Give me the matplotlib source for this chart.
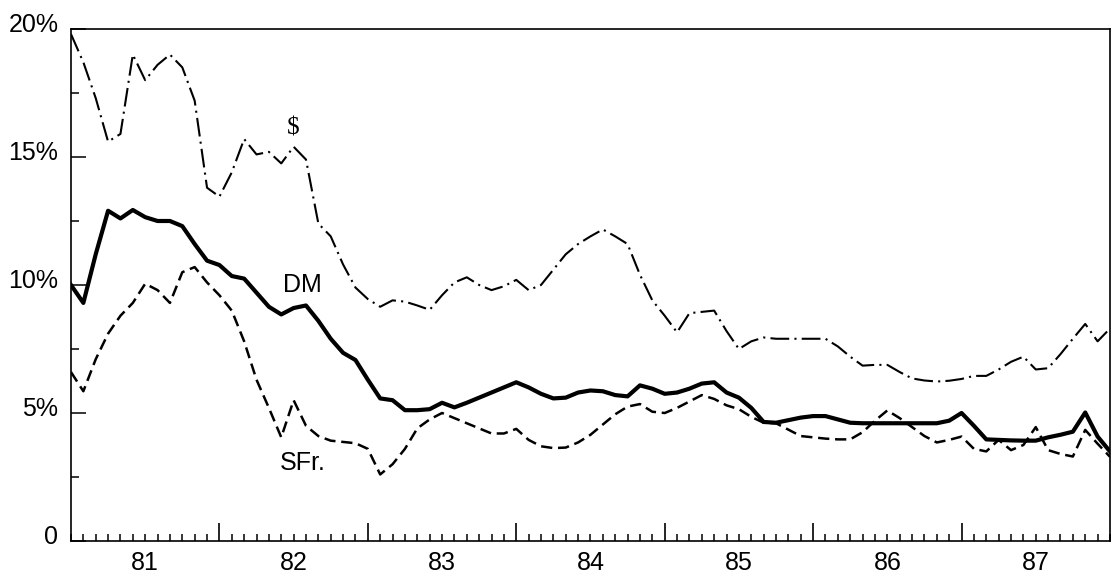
import numpy as np
import matplotlib.pyplot as plt
from matplotlib.ticker import MultipleLocator, FixedLocator, FuncFormatter
import matplotlib.transforms as mtransforms

# monthly values, Jan 1981 .. Jan 1988 (85 points), in percent
usd = [19.8, 18.7, 17.3, 15.6, 15.9, 19.0, 18.0, 18.6, 19.0, 18.5,
       17.2, 13.8, 13.45, 14.4, 15.7, 15.1, 15.2, 14.75, 15.4, 14.9,
       12.4, 11.9, 10.8, 9.9, 9.45, 9.15, 9.4, 9.35, 9.2, 9.03,
       9.6, 10.1, 10.3, 10.0, 9.8, 9.95, 10.2, 9.8, 10.0, 10.6,
       11.2, 11.6, 11.9, 12.17, 11.9, 11.6, 10.4, 9.4, 8.8, 8.15,
       8.9, 8.95, 9.0, 8.2, 7.5, 7.8, 7.95, 7.9, 7.9, 7.9,
       7.9, 7.9, 7.6, 7.2, 6.85, 6.88, 6.88, 6.6, 6.35, 6.27,
       6.23, 6.26, 6.33, 6.45, 6.45, 6.7, 7.0, 7.2, 6.7, 6.75,
       7.3, 7.9, 8.48, 7.8, 8.3]

dm = [10.0, 9.3, 11.2, 12.9, 12.6, 12.93, 12.65, 12.5, 12.5, 12.3,
      11.6, 10.95, 10.78, 10.35, 10.25, 9.7, 9.15, 8.85, 9.1, 9.2,
      8.6, 7.9, 7.35, 7.07, 6.3, 5.57, 5.5, 5.11, 5.11, 5.15,
      5.4, 5.22, 5.4, 5.6, 5.8, 6.0, 6.2, 6.0, 5.75, 5.57,
      5.6, 5.8, 5.88, 5.85, 5.7, 5.65, 6.08, 5.95, 5.75, 5.8,
      5.95, 6.15, 6.2, 5.8, 5.6, 5.2, 4.65, 4.62, 4.72, 4.82,
      4.88, 4.88, 4.75, 4.62, 4.6, 4.6, 4.6, 4.6, 4.6, 4.6,
      4.6, 4.7, 5.0, 4.5, 3.97, 3.95, 3.93, 3.92, 3.92, 4.05,
      4.15, 4.27, 5.02, 4.08, 3.5]

sfr = [6.6, 5.85, 7.1, 8.1, 8.8, 9.3, 10.05, 9.8, 9.3, 10.5,
       10.7, 10.1, 9.6, 9.0, 7.8, 6.3, 5.2, 4.05, 5.5, 4.5,
       4.1, 3.92, 3.87, 3.82, 3.6, 2.6, 3.0, 3.6, 4.4, 4.75,
       5.0, 4.8, 4.6, 4.4, 4.2, 4.2, 4.38, 3.95, 3.7, 3.63,
       3.65, 3.85, 4.15, 4.55, 4.95, 5.25, 5.35, 5.05, 5.0, 5.2,
       5.45, 5.7, 5.55, 5.3, 5.15, 4.85, 4.62, 4.6, 4.35, 4.1,
       4.05, 4.0, 3.97, 3.97, 4.25, 4.7, 5.1, 4.8, 4.45, 4.1,
       3.85, 3.95, 4.08, 3.6, 3.5, 3.95, 3.55, 3.75, 4.45, 3.55,
       3.4, 3.3, 4.34, 3.8, 3.29]

years = [81, 82, 83, 84, 85, 86, 87]
ytick_vals = [0, 5, 10, 15, 20]
ytick_labels = ['0', '5%', '10%', '15%', '20%']

t = 1981 + np.arange(len(usd)) / 12.0

plt.rcParams['font.family'] = ['Liberation Sans', 'DejaVu Sans']

fig = plt.figure(figsize=(11.16, 5.75), dpi=100)
ax = fig.add_axes([0.0636, 0.0591, 0.9310, 0.8905])

ax.plot(t, usd, color='black', lw=1.5, linestyle=(0, (9, 2.5, 1, 2.5)))
ax.plot(t, dm, color='black', lw=3.0, solid_joinstyle='round')
ax.plot(t, sfr, color='black', lw=1.8, linestyle=(0, (4.5, 2.3)))

ax.text(1982.50, 16.1, '$', family='Liberation Serif', fontsize=18,
        ha='center', va='center')
ax.text(1982.56, 10.0, 'DM', fontsize=18, ha='center', va='center')
ax.text(1982.56, 3.05, 'SFr.', fontsize=18, ha='center', va='center')

ax.set_xlim(1981, 1988)
ax.set_ylim(0, 20)

# x axis: long ticks at year boundaries, monthly short ticks, labels mid-year
ax.xaxis.set_major_locator(FixedLocator([1981 + i for i in range(1, 7)]))
ax.xaxis.set_major_formatter(FuncFormatter(lambda v, p: ''))
ax.xaxis.set_minor_locator(MultipleLocator(1 / 12))

def mid_label(v, p):
    for y in years:
        if abs(v - (1900 + y + 0.5)) < 0.01:
            return str(y)
    return ''

ax.xaxis.set_minor_formatter(FuncFormatter(mid_label))
ax.tick_params(axis='x', which='major', direction='in', length=13, width=1.2)
ax.tick_params(axis='x', which='minor', direction='in', length=5, width=1.1,
               labelsize=18, pad=7)

ax.set_yticks(ytick_vals)
ax.set_yticklabels(ytick_labels)
ax.yaxis.set_minor_locator(MultipleLocator(2.5))
ax.tick_params(axis='y', which='major', direction='in', length=11, width=1.1,
               labelsize=18, pad=9)
ax.tick_params(axis='y', which='minor', direction='in', length=6, width=1.1)

offset = mtransforms.ScaledTranslation(0, 5 / 72, fig.dpi_scale_trans)
for lab in ax.get_yticklabels():
    lab.set_transform(lab.get_transform() + offset)

for s in ax.spines.values():
    s.set_linewidth(1.2)

fig.savefig('out.png', dpi=100)
